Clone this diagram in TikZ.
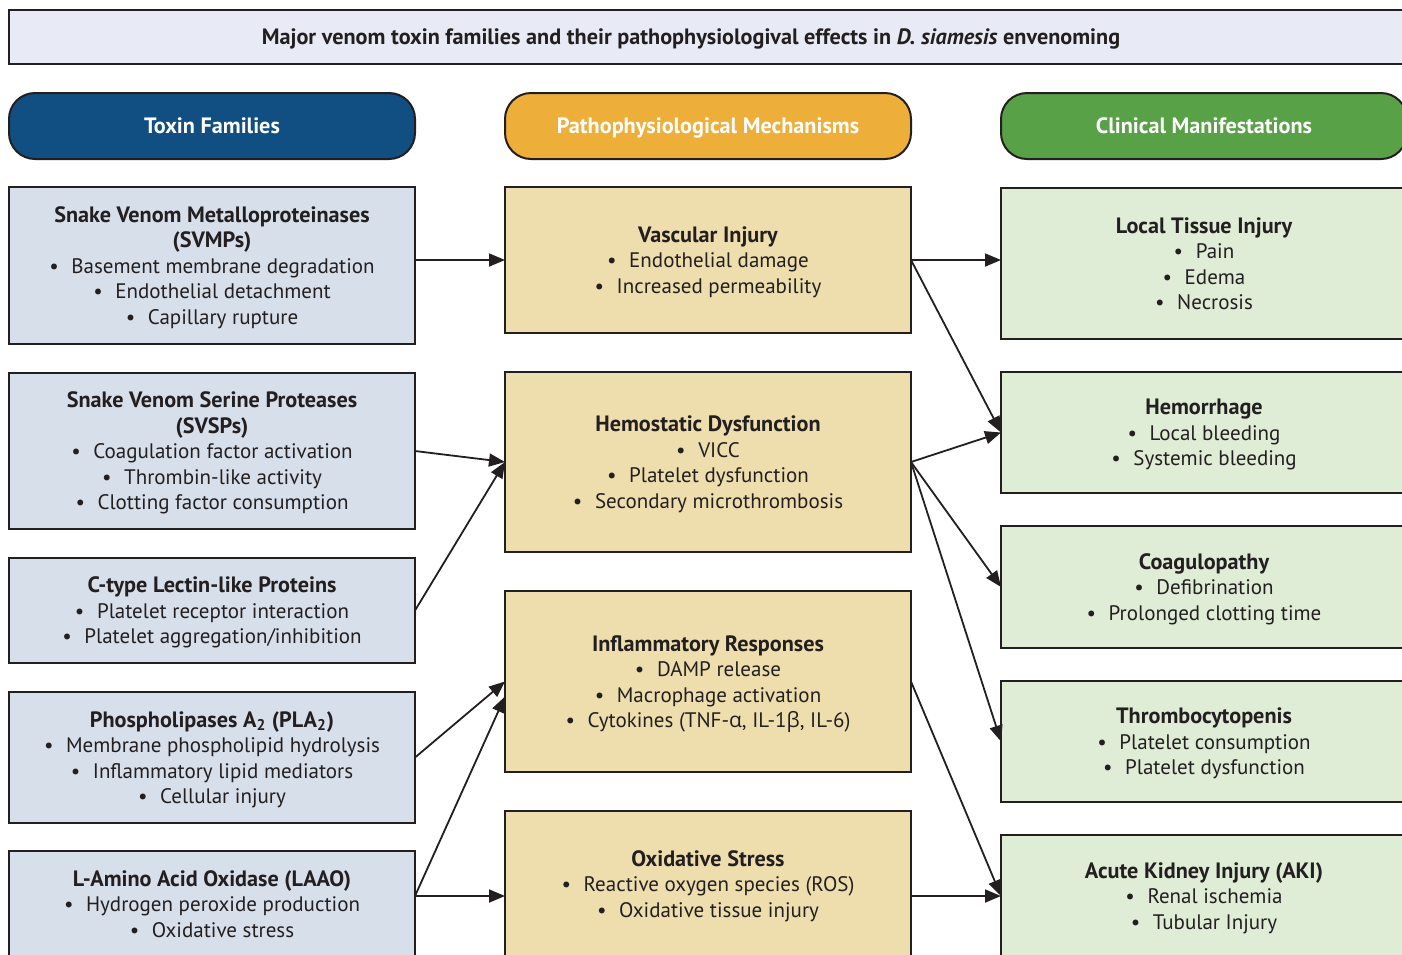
\documentclass[tikz,border=0pt]{standalone}
\usepackage{fontspec}
\setmainfont{PT Sans}
\newfontfamily\greekfont{Open Sans}
\usetikzlibrary{arrows.meta,positioning,calc}

\definecolor{linecol}{HTML}{231F20}
\definecolor{titlefill}{HTML}{E8EAF5}
\definecolor{toxhead}{HTML}{114F82}
\definecolor{mechhead}{HTML}{EEAE3A}
\definecolor{clinhead}{HTML}{58A147}
\definecolor{toxfill}{HTML}{D7DFEA}
\definecolor{mechfill}{HTML}{EEDEAE}
\definecolor{clinfill}{HTML}{DFECD6}

\newcommand{\itm}[1]{\textbullet\hspace{0.6em}#1}
\newcommand{\hd}[1]{{\fontsize{11.1}{12.75}\selectfont\bfseries #1}}

\begin{document}
\begin{tikzpicture}
[ x=0.5pt, y=-0.5pt,
		every node/.style={font=\fontsize{10.5}{12.75}\selectfont,text=linecol,outer sep=0pt},
		banner/.style={rectangle,draw=linecol,line width=1pt,fill=titlefill,minimum width=699pt,minimum height=27pt,text height=7pt,text depth=0pt,font=\bfseries\fontsize{11.1}{12}\selectfont},
		header/.style={rectangle,rounded corners=13pt,draw=linecol,line width=1pt,minimum width=203pt,minimum height=33pt,text height=8pt,text depth=1pt,text=white,font=\bfseries\fontsize{11.1}{12}\selectfont},
		toxin/.style={rectangle,draw=linecol,line width=1pt,fill=toxfill,minimum width=203pt,align=center,text depth=0pt},
		mechanism/.style={rectangle,draw=linecol,line width=1pt,fill=mechfill,minimum width=203pt,align=center,text depth=0pt},
		clinical/.style={rectangle,draw=linecol,line width=1pt,fill=clinfill,minimum width=203pt,align=center,text depth=0pt},
		arrowOut/.style={-{Triangle[length=8pt,width=6.5pt]},line width=0.9pt,draw=linecol}]

	\useasboundingbox (0,0) rectangle (1402,954);
	\clip (0,0) rectangle (1402,954);

	\node[banner] (title) at (708,37) {Major venom toxin families and their pathophysiologival effects in \textit{D. siamesis} envenoming\hspace*{17pt}};

	\node[header,fill=toxhead] (toxins) at (212,126) {Toxin Families};
	\node[header,fill=mechhead] (mechanisms) at (708,126) {Pathophysiological Mechanisms};
	\node[header,fill=clinhead] (clinical) at (1204,126) {Clinical Manifestations};

	% toxin families
	\node[toxin,minimum height=78.5pt,below=14pt of toxins] (svmp) {\hd{Snake Venom Metalloproteinases}\\\hd{(SVMPs)}\\\itm{Basement membrane degradation}\\\itm{Endothelial detachment}\\\itm{Capillary rupture}};
	\node[toxin,minimum height=78pt,below=14.5pt of svmp] (svsp) {\hd{Snake Venom Serine Proteases}\\\hd{(SVSPs)}\\\itm{Coagulation factor activation}\\\itm{Thrombin-like activity}\\\itm{Clotting factor consumption}};
	\node[toxin,minimum height=52.5pt,below=14.5pt of svsp] (ctl) {\hd{C-type Lectin-like Proteins}\\\itm{Platelet receptor interaction}\\\itm{Platelet aggregation/inhibition}};
	\node[toxin,minimum height=65.5pt,below=14.5pt of ctl] (pla) {\hd{Phospholipases A\textsubscript{2} (PLA\textsubscript{2})}\\\itm{Membrane phospholipid hydrolysis}\\\itm{Inflammatory lipid mediators}\\\itm{Cellular injury}};
	\node[toxin,minimum height=53pt,below=14pt of pla] (laao) {\hd{L-Amino Acid Oxidase (LAAO)}\\\itm{Hydrogen peroxide production}\\\itm{Oxidative stress}};

	% mechanisms
	\node[mechanism,minimum height=73pt,below=14pt of mechanisms] (vasc) {\hd{Vascular Injury}\\\itm{Endothelial damage}\\\itm{Increased permeability}};
	\node[mechanism,minimum height=90pt,below=19.5pt of vasc] (hemo) {\hd{Hemostatic Dysfunction}\\\itm{VICC}\\\itm{Platelet dysfunction}\\\itm{Secondary microthrombosis}};
	\node[mechanism,minimum height=90.5pt,below=19.5pt of hemo] (infl) {\hd{Inflammatory Responses}\\\itm{DAMP release}\\\itm{Macrophage activation}\\\itm{Cytokines (TNF-{\greekfont α}, IL-1{\greekfont β}, IL-6)}};
	\node[mechanism,minimum height=73pt,below=19.5pt of infl] (oxid) {\hd{Oxidative Stress}\\\itm{Reactive oxygen species (ROS)}\\\itm{Oxidative tissue injury}};

	% clinical manifestations
	\node[clinical,minimum height=75.5pt,below=14.5pt of clinical] (local) {\hd{Local Tissue Injury}\\\itm{Pain}\\\itm{Edema}\\\itm{Necrosis}};
	\node[clinical,minimum height=60.5pt,below=16.5pt of local] (hemor) {\hd{Hemorrhage}\\\itm{Local bleeding}\\\itm{Systemic bleeding}};
	\node[clinical,minimum height=61pt,below=16.5pt of hemor] (coag) {\hd{Coagulopathy}\\\itm{Defibrination}\\\itm{Prolonged clotting time}};
	\node[clinical,minimum height=60.5pt,below=16.5pt of coag] (thromb) {\hd{Thrombocytopenis}\\\itm{Platelet consumption}\\\itm{Platelet dysfunction}};
	\node[clinical,minimum height=61pt,below=16.5pt of thromb] (aki) {\hd{Acute Kidney Injury (AKI)}\\\itm{Renal ischemia}\\\itm{Tubular Injury}};

	\draw[arrowOut] (svmp.east |- vasc.west) -- (vasc.west);
	\draw[arrowOut] (svsp.east) -- (hemo.west);
	\draw[arrowOut] (ctl.east) -- (hemo.west);
	\draw[arrowOut] (pla.east) -- (infl.west);
	\draw[arrowOut] (laao.east |- aki.west) -- ($(infl.west)+(0,15)$);
	\draw[arrowOut] (laao.east |- aki.west) -- (oxid.west |- aki.west);

	\draw[arrowOut] (vasc.east) -- (vasc.east -| local.west);
	\draw[arrowOut] (vasc.east) -- (hemor.west);
	\draw[arrowOut] (hemo.east) -- (hemor.west);
	\draw[arrowOut] (hemo.east) -- (coag.west);
	\draw[arrowOut] (hemo.east) -- (thromb.west);
	\draw[arrowOut] (infl.east) -- (aki.west);
	\draw[arrowOut] (oxid.east |- aki.west) -- (aki.west);
\end{tikzpicture}
\end{document}
